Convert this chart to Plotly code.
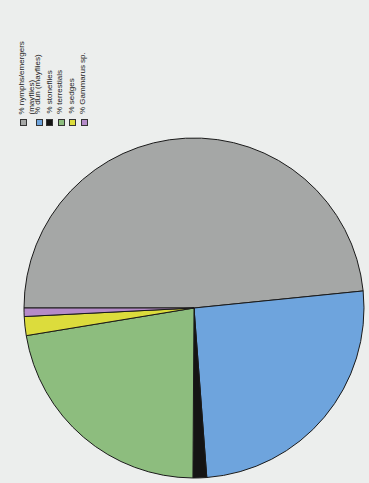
import plotly.graph_objects as go

categories = ["% nymphs/emergers<br>(mayflies)", "% dun (mayflies)", "% stoneflies",
              "% terrestials", "% sedges", "% Gammarus sp."]
values = [48.4, 25.4, 1.3, 22.3, 1.8, 0.8]
colors = ["#a5a7a6", "#6ea4dd", "#141414", "#8dbd7e", "#dcdc3c", "#b58bc9"]

W, H = 369, 483
fig = go.Figure()
cx, cy, r = 194, 308, 170
fig.add_trace(go.Pie(
    labels=categories, values=values, sort=False, direction="clockwise",
    rotation=-90, textinfo="none", hoverinfo="label+percent",
    marker=dict(colors=colors, line=dict(color="#1a1a1a", width=1)),
    domain=dict(x=[(cx - r) / W, (cx + r) / W], y=[(H - cy - r) / H, (H - cy + r) / H]),
    showlegend=False,
))

# rotated legend (chart photographed sideways)
leg_x = [20, 36, 47, 58, 69, 81]
sq_y = 122
for i, (lab, col) in enumerate(zip(categories, colors)):
    fig.add_annotation(xref="paper", yref="paper", x=(leg_x[i] + 3) / W, y=1 - sq_y / H,
                       text=" ", showarrow=False, bgcolor=col, bordercolor="#333",
                       borderwidth=1, width=5, height=5, borderpad=0,
                       xanchor="center", yanchor="middle", font=dict(size=4))
    fig.add_annotation(xref="paper", yref="paper", x=(leg_x[i] + (6 if i == 0 else 2)) / W,
                       y=1 - (sq_y - 6) / H,
                       text=lab, showarrow=False, textangle=-90, align="left",
                       xanchor="center", yanchor="bottom",
                       font=dict(family="Liberation Sans", size=8, color="#222"))

fig.update_layout(width=W, height=H, margin=dict(l=0, r=0, t=0, b=0),
                  paper_bgcolor="#eceeed", plot_bgcolor="#eceeed")
fig.write_html("out.html", config={"displayModeBar": False},
               post_script="document.body.style.margin='0';document.body.style.background='#eceeed';")
